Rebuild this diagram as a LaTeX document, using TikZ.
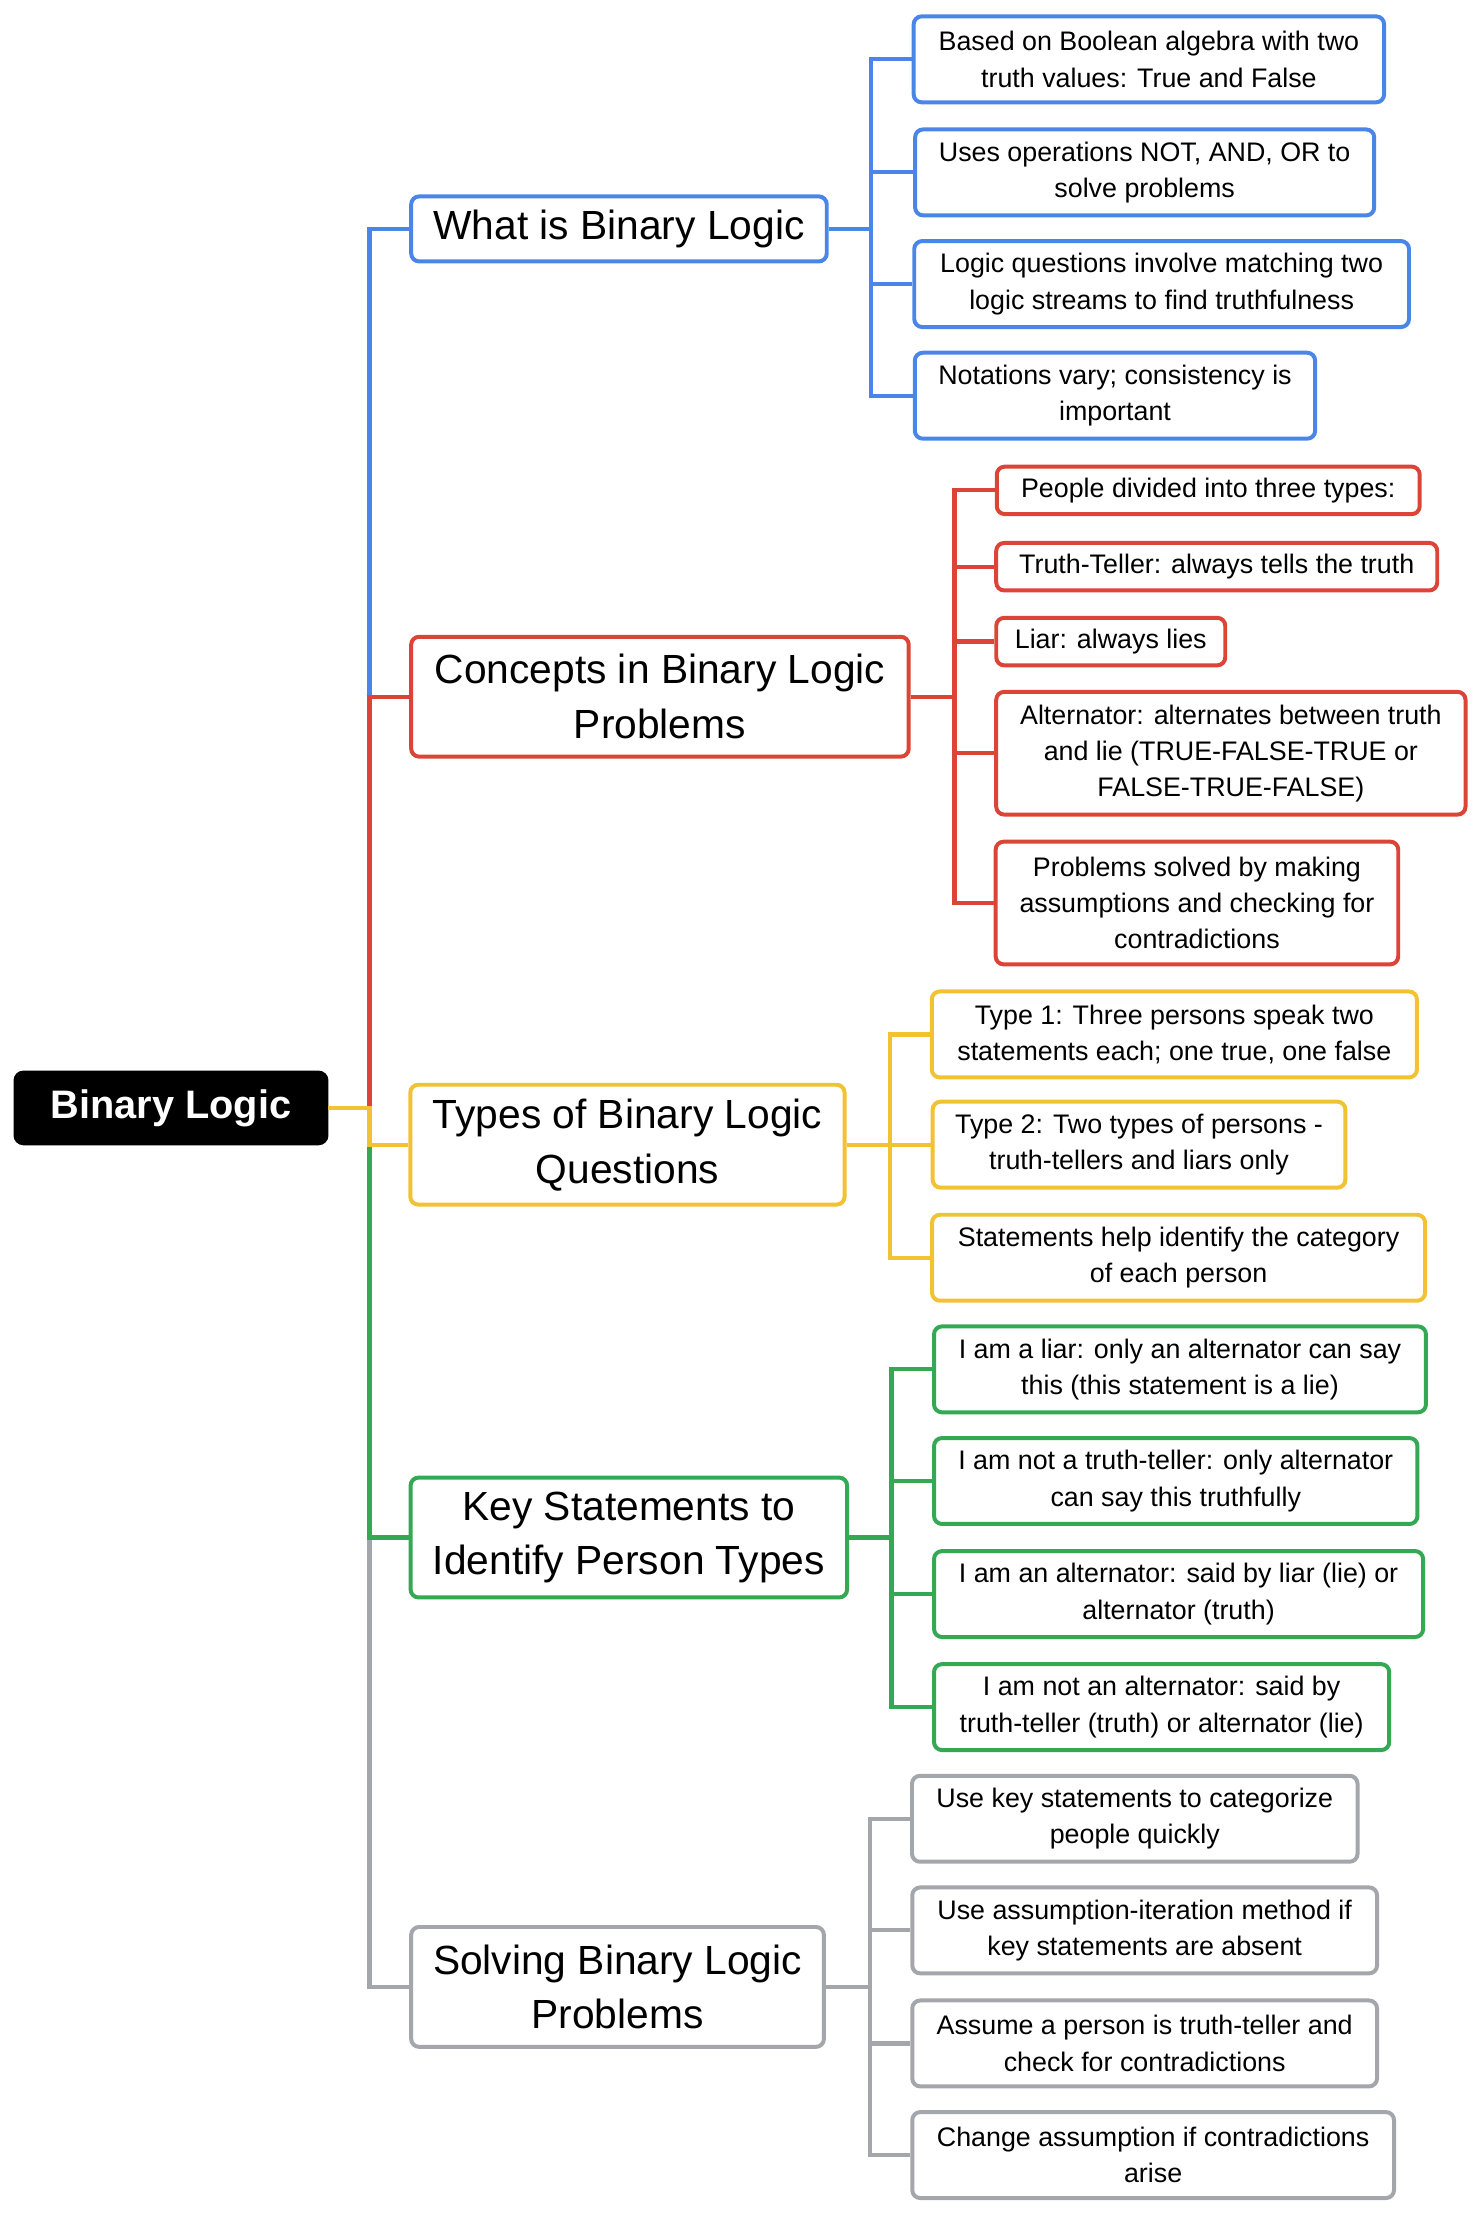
\documentclass[tikz,border=0pt]{standalone}
\usepackage{fontspec}
\setmainfont{Liberation Sans}
\definecolor{cblue}{HTML}{4A86E8}
\definecolor{cred}{HTML}{DB4437}
\definecolor{cyellow}{HTML}{F1C232}
\definecolor{cgreen}{HTML}{34A853}
\definecolor{cgray}{HTML}{A3A6AA}
\tikzset{
  box/.style={draw,line width=2pt,rounded corners=4pt,align=center,inner sep=0pt,fill=white},
  leaf/.style={box,minimum height=1.52cm,font=\fontsize{13.5}{18.2}\selectfont},
  small/.style={box,minimum height=0.84cm,font=\fontsize{13.5}{18.2}\selectfont},
  tall/.style={box,minimum height=2.17cm,font=\fontsize{13.5}{18.2}\selectfont},
  topic/.style={box,minimum height=2.12cm,font=\fontsize{20.5}{27.6}\selectfont},
  link/.style={line width=2.1pt},
}
\begin{document}
\begin{tikzpicture}[x=0.025cm,y=-0.025cm]
  \useasboundingbox (0,0) rectangle (1048,1566);
  \node[box,fill=black,text=white,font=\fontsize{20}{24}\selectfont\bfseries,
        minimum width=5.5cm,minimum height=1.25cm] (root) at (121,784) {Binary Logic};
  % topics
  \node[topic,draw=cblue,minimum width=7.35cm,minimum height=1.15cm] (what) at (438,162) {What is Binary Logic};
  \node[topic,draw=cred,minimum width=8.8cm] (concepts) at (467,493) {Concepts in Binary Logic\\Problems};
  \node[topic,draw=cyellow,minimum width=7.68cm] (types) at (444,810) {Types of Binary Logic\\Questions};
  \node[topic,draw=cgreen,minimum width=7.72cm] (keys) at (445,1088) {Key Statements to\\Identify Person Types};
  \node[topic,draw=cgray,minimum width=7.3cm] (solving) at (437,1406) {Solving Binary Logic\\Problems};
  % trunk
  \foreach \t/\c in {solving/cgray,what/cblue,keys/cgreen,concepts/cred,types/cyellow}
    \draw[link,\c] (root.east) -- ++(29,0) |- (\t.west);
  % what
  \node[leaf,draw=cblue,minimum width=8.32cm] (w1) at (813,42) {Based on Boolean algebra with two\\truth values: True and False};
  \node[leaf,draw=cblue,minimum width=8.12cm] (w2) at (810,122) {Uses operations NOT, AND, OR to\\solve problems};
  \node[leaf,draw=cblue,minimum width=8.75cm] (w3) at (822,201) {Logic questions involve matching two\\logic streams to find truthfulness};
  \node[leaf,draw=cblue,minimum width=7.08cm] (w4) at (789,280) {Notations vary; consistency is\\important};
  \foreach \n in {w1,w2,w3,w4}
    \draw[link,cblue] (what.east) -- ++(30,0) |- (\n.west);
  % concepts
  \node[small,draw=cred,minimum width=7.48cm] (c1) at (855,347) {People divided into three types:};
  \node[small,draw=cred,minimum width=7.8cm] (c2) at (861,401) {Truth-Teller: always tells the truth};
  \node[small,draw=cred,minimum width=4.05cm] (c3) at (786,454) {Liar: always lies};
  \node[tall,draw=cred,minimum width=8.3cm] (c4) at (871,533) {Alternator: alternates between truth\\and lie (TRUE-FALSE-TRUE or\\FALSE-TRUE-FALSE)};
  \node[tall,draw=cred,minimum width=7.12cm] (c5) at (847,639) {Problems solved by making\\assumptions and checking for\\contradictions};
  \foreach \n in {c1,c2,c3,c4,c5}
    \draw[link,cred] (concepts.east) -- ++(31,0) |- (\n.west);
  % types
  \node[leaf,draw=cyellow,minimum width=8.58cm] (t1) at (831,732) {Type 1: Three persons speak two\\statements each; one true, one false};
  \node[leaf,draw=cyellow,minimum width=7.3cm] (t2) at (806,810) {Type 2: Two types of persons -\\truth-tellers and liars only};
  \node[leaf,draw=cyellow,minimum width=8.72cm] (t3) at (834,890) {Statements help identify the category\\of each person};
  \foreach \n in {t1,t2,t3}
    \draw[link,cyellow] (types.east) -- ++(31,0) |- (\n.west);
  % key statements
  \node[leaf,draw=cgreen,minimum width=8.7cm] (k1) at (835,969) {I am a liar: only an alternator can say\\this (this statement is a lie)};
  \node[leaf,draw=cgreen,minimum width=8.55cm] (k2) at (832,1048) {I am not a truth-teller: only alternator\\can say this truthfully};
  \node[leaf,draw=cgreen,minimum width=8.65cm] (k3) at (834,1128) {I am an alternator: said by liar (lie) or\\alternator (truth)};
  \node[leaf,draw=cgreen,minimum width=8.05cm] (k4) at (822,1208) {I am not an alternator: said by\\truth-teller (truth) or alternator (lie)};
  \foreach \n in {k1,k2,k3,k4}
    \draw[link,cgreen] (keys.east) -- ++(30,0) |- (\n.west);
  % solving
  \node[leaf,draw=cgray,minimum width=7.88cm] (s1) at (803,1287) {Use key statements to categorize\\people quickly};
  \node[leaf,draw=cgray,minimum width=8.22cm] (s2) at (810,1366) {Use assumption-iteration method if\\key statements are absent};
  \node[leaf,draw=cgray,minimum width=8.22cm] (s3) at (810,1446) {Assume a person is truth-teller and\\check for contradictions};
  \node[leaf,draw=cgray,minimum width=8.52cm] (s4) at (816,1525) {Change assumption if contradictions\\arise};
  \foreach \n in {s1,s2,s3,s4}
    \draw[link,cgray] (solving.east) -- ++(31,0) |- (\n.west);
\end{tikzpicture}
\end{document}
